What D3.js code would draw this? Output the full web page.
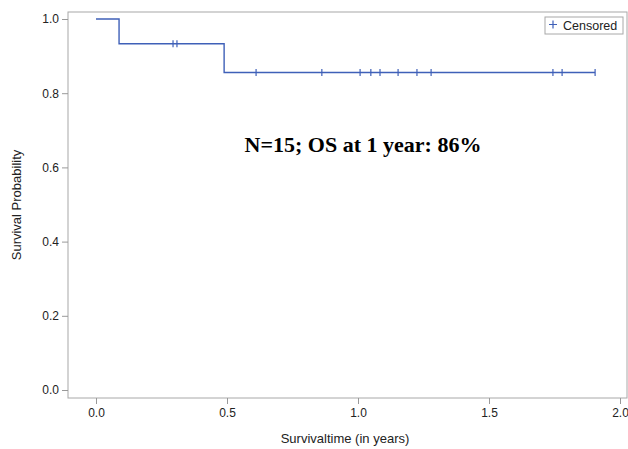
<!DOCTYPE html>
<html lang="en">
<head>
    <meta charset="UTF-8">
    <title>Kaplan-Meier Survival</title>
    <script src="https://d3js.org/d3.v7.min.js"></script>
    <style>
        body { margin: 0; background: #fff; }
        .tick text { font-family: "Liberation Sans", Arial, sans-serif; font-size: 12px; fill: #222; }
        .tick line { stroke: #999; }
        .axis-label { font-family: "Liberation Sans", Arial, sans-serif; font-size: 13px; fill: #222; }
        .note { font-family: "Liberation Serif", "Times New Roman", serif; font-size: 22px; font-weight: bold; }
    </style>
</head>
<body>
    <svg width="628" height="449"></svg>

    <script>
        // Kaplan-Meier steps: time of each drop and survival level after it
        var stepTimes = [0, 0.088, 0.489, 1.905];
        var stepSurv = [1.0, 0.9333, 0.8556, 0.8556];
        // censored observations (years)
        var censorTimes = [0.294, 0.309, 0.611, 0.862, 1.008, 1.049, 1.084, 1.153, 1.225, 1.279, 1.744, 1.779, 1.905];
        var xTicks = [0, 0.5, 1.0, 1.5, 2.0];
        var yTicks = [0, 0.2, 0.4, 0.6, 0.8, 1.0];

        var frame = { left: 68, right: 627, top: 12, bottom: 398 };
        var svg = d3.select("svg");

        var x = d3.scaleLinear().domain([0, 2]).range([96, 620]);
        var y = d3.scaleLinear().domain([0, 1]).range([390, 19]);

        function survAt(t) {
            var s = stepSurv[0];
            for (var i = 0; i < stepTimes.length; i++) if (stepTimes[i] <= t) s = stepSurv[i];
            return s;
        }

        // frame
        svg.append("rect")
           .attr("x", frame.left).attr("y", frame.top)
           .attr("width", frame.right - frame.left).attr("height", frame.bottom - frame.top)
           .attr("fill", "none").attr("stroke", "#a8a8a8");

        var xAxis = svg.append("g")
           .attr("transform", "translate(0," + frame.bottom + ")")
           .call(d3.axisBottom(x).tickValues(xTicks).tickFormat(d3.format(".1f")).tickSize(6).tickPadding(4));
        xAxis.select(".domain").remove();

        var yAxis = svg.append("g")
           .attr("transform", "translate(" + frame.left + ",0)")
           .call(d3.axisLeft(y).tickValues(yTicks).tickFormat(d3.format(".1f")).tickSize(6).tickPadding(3));
        yAxis.select(".domain").remove();

        // survival curve
        var pts = stepTimes.map(function(t, i) { return [t, stepSurv[i]]; });
        var line = d3.line()
                     .x(function(d) { return x(d[0]); })
                     .y(function(d) { return y(d[1]); })
                     .curve(d3.curveStepAfter);
        svg.append("path")
           .datum(pts)
           .attr("d", line)
           .attr("fill", "none")
           .attr("stroke", "#3f60b8")
           .attr("stroke-width", 1.4);

        svg.selectAll(".cens")
           .data(censorTimes)
           .enter().append("line")
           .attr("x1", function(d) { return x(d); })
           .attr("x2", function(d) { return x(d); })
           .attr("y1", function(d) { return y(survAt(d)) - 3.5; })
           .attr("y2", function(d) { return y(survAt(d)) + 3.5; })
           .attr("stroke", "#3f60b8")
           .attr("stroke-width", 1.2);

        // legend
        var lg = svg.append("g").attr("transform", "translate(545,17)");
        lg.append("rect").attr("width", 78).attr("height", 17)
          .attr("fill", "#fff").attr("stroke", "#a8a8a8");
        lg.append("path").attr("d", "M4,7.5h8M8,3.5v8").attr("stroke", "#3f60b8").attr("stroke-width", 1.2);
        lg.append("text").attr("x", 18).attr("y", 13)
          .attr("class", "axis-label").style("font-size", "12.5px").text("Censored");

        // annotation
        svg.append("text")
           .attr("class", "note")
           .attr("x", 363).attr("y", 152)
           .attr("text-anchor", "middle")
           .text("N=15; OS at 1 year: 86%");

        svg.append("text")
           .attr("class", "axis-label")
           .attr("x", 345).attr("y", 443)
           .attr("text-anchor", "middle")
           .text("Survivaltime (in years)");

        svg.append("text")
           .attr("class", "axis-label")
           .attr("transform", "rotate(-90)")
           .attr("x", -205).attr("y", 21)
           .attr("text-anchor", "middle")
           .text("Survival Probability");
    </script>
</body>
</html>
